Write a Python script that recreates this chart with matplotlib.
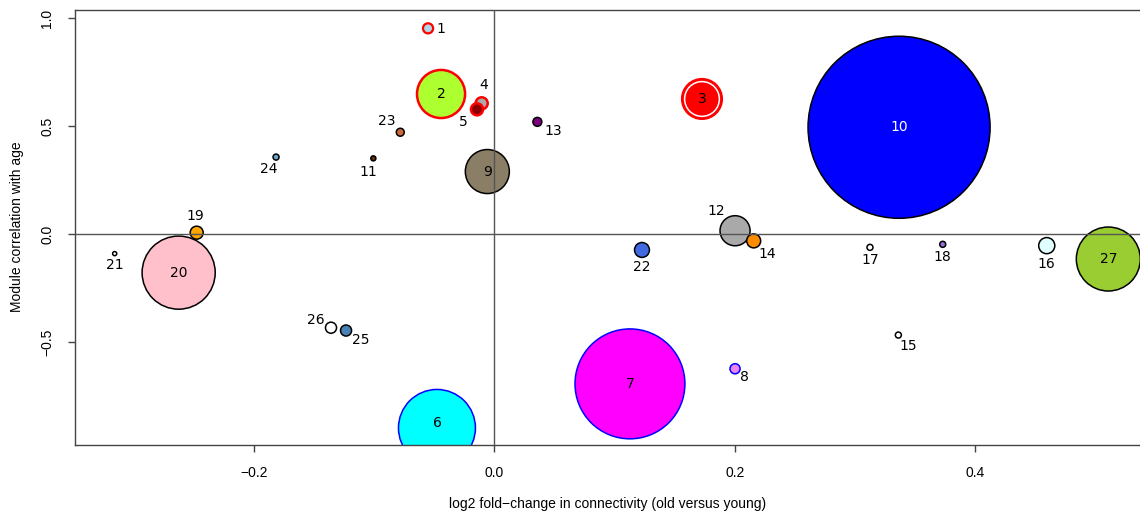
import matplotlib
matplotlib.use("Agg")
import matplotlib.pyplot as plt
from matplotlib.patches import Ellipse

# ---- data ----
modules = list(range(1, 28))
fold_change = [-0.0551, -0.0443, 0.1727, -0.0105, -0.0144, -0.0477, 0.1128, 0.2002, -0.0058, 0.3366,
               -0.1006, 0.2002, 0.0358, 0.2157, 0.3360, 0.4594, 0.3124, 0.3729, -0.2475, -0.2625,
               -0.3157, 0.1228, -0.0782, -0.1815, -0.1233, -0.1358, 0.5106]
age_corr = [0.952, 0.648, 0.625, 0.605, 0.577, -0.898, -0.694, -0.624, 0.289, 0.494,
            0.350, 0.015, 0.519, -0.032, -0.468, -0.054, -0.062, -0.048, 0.006, -0.179,
            -0.091, -0.074, 0.471, 0.356, -0.447, -0.434, -0.116]
# circle radius in x-axis units (module size)
radius = [0.0042, 0.0200, 0.0166, 0.0050, 0.0050, 0.0320, 0.0457, 0.0042, 0.0183, 0.0757,
          0.0021, 0.0125, 0.0037, 0.0058, 0.0025, 0.0067, 0.0025, 0.0025, 0.0054, 0.0304,
          0.0017, 0.0062, 0.0033, 0.0025, 0.0046, 0.0046, 0.0266]
fill_colors = ["#ADD8E6", "#ADFF2F", "#FF0000", "#A9A9A9", "#8B0000", "#00FFFF", "#FF00FF", "#EE82EE",
               "#8B7E66", "#0000FF", "#5C3317", "#A9A9A9", "#800080", "#FF8C00", "#FFFFFF", "#E0FFFF",
               "#FFFFFF", "#9370DB", "#FFA500", "#FFC0CB", "#FFFFFF", "#4169E1", "#CD6839", "#6CA6CD",
               "#4682B4", "#FFFFFF", "#9ACD32"]
edge_colors = ["red", "red", "red", "red", "red", "blue", "blue", "blue", "black", "black",
               "black", "black", "black", "black", "black", "black", "black", "black", "black", "black",
               "black", "black", "black", "black", "black", "black", "black"]
x_ticks = [-0.2, 0.0, 0.2, 0.4]
y_ticks = [-0.5, 0.0, 0.5, 1.0]
x_label = "log2 fold\u2212change in connectivity (old versus young)"
y_label = "Module correlation with age"

# ---- label placement (offset in pixels, up positive) ----
label_offsets = {1: (13, -1), 2: (0, 0), 3: (0, 0), 4: (2, 18), 5: (-14, -13), 6: (0, 5),
                 7: (0, 0), 8: (9, -8), 9: (0, 0), 10: (0, 0), 11: (-5, -14), 12: (-19, 20),
                 13: (16, -9), 14: (14, -13), 15: (10, -11), 16: (0, -18), 17: (0, -13),
                 18: (0, -13), 19: (-1, 17), 20: (0, 0), 21: (0, -11), 22: (0, -17),
                 23: (-14, 11), 24: (-7, -12), 25: (15, -9), 26: (-15, 8), 27: (0, 0)}
edge_widths = {1: 1.6, 2: 1.8, 3: 1.6, 4: 1.8, 5: 1.8}

W, H = 1140, 513
fig = plt.figure(figsize=(W / 100, H / 100), dpi=100)
left_px, right_px, top_px, bottom_px = 75, 1150, 10, 445
ax = fig.add_axes([left_px / W, (H - bottom_px) / H, (right_px - left_px) / W, (bottom_px - top_px) / H])
ax.set_xlim(-0.3487, -0.3487 + (right_px - left_px) / 1202.5)
ax.set_ylim(-0.977, -0.977 + (bottom_px - top_px) / 216.0)

p0 = ax.transData.transform((0, 0))
p1 = ax.transData.transform((1, 1))
k = (p1[0] - p0[0]) / (p1[1] - p0[1])

for m, x, y, r, fc, ec in zip(modules, fold_change, age_corr, radius, fill_colors, edge_colors):
    lw = edge_widths.get(m, 1.1)
    e = Ellipse((x, y), 2 * r, 2 * r * k, facecolor=fc, edgecolor=ec, linewidth=lw, zorder=2)
    ax.add_patch(e)
    if m == 3:
        rr = r - 2.6 / 1202.5
        ax.add_patch(Ellipse((x, y), 2 * rr, 2 * rr * k, facecolor="none", edgecolor="white",
                             linewidth=1.1, zorder=2.1))
    dx, dy = label_offsets[m]
    ax.annotate(str(m), (x, y), xytext=(dx * 0.72, dy * 0.72), textcoords="offset points",
                ha="center", va="center", fontsize=10, family="DejaVu Sans",
                color="white" if m == 10 else "black", zorder=4)

ax.axhline(0, color="#555555", lw=1.0, zorder=3)
ax.axvline(0, color="#555555", lw=1.0, zorder=3)

for s in ax.spines.values():
    s.set_color("#444444")
    s.set_linewidth(1.0)

ax.set_xticks(x_ticks)
ax.set_yticks(y_ticks)
ax.set_xticklabels([f"{v:.1f}".replace("-", "\u2212") for v in x_ticks], family="Liberation Sans", fontsize=10)
ax.set_yticklabels([f"{v:.1f}".replace("-", "\u2212") for v in y_ticks], family="Liberation Sans", fontsize=10,
                   rotation=90, va="center")
ax.tick_params(axis="both", direction="out", length=5, width=1, color="#444444")
ax.tick_params(axis="x", pad=10)
ax.tick_params(axis="y", pad=10)

fig.text(0.5 * (75 + 1140) / W - 0.0, 1 - 504 / H, x_label, ha="center", va="center",
         family="Liberation Sans", fontsize=10)
fig.text(17 / W, 1 - 227 / H, y_label, ha="center", va="center", rotation=90,
         family="Liberation Sans", fontsize=10)

fig.savefig("out.png", dpi=100)
